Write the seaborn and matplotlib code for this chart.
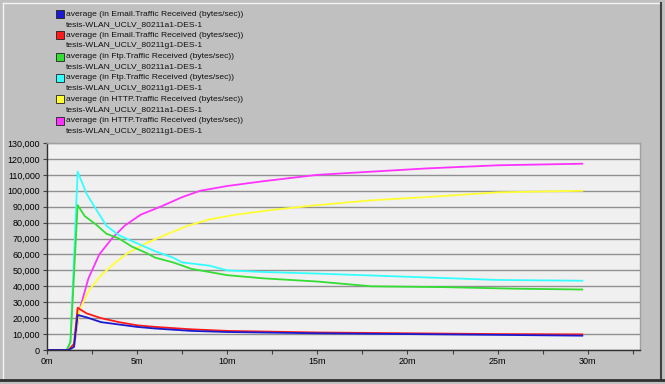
import matplotlib
matplotlib.use('Agg')
import matplotlib.pyplot as plt
import matplotlib.ticker as mticker
from matplotlib.lines import Line2D
import pandas as pd
import seaborn as sns

# time in minutes, traffic in bytes/sec
email_a1_t = [0, 1.2, 1.5, 1.7, 2.2, 3, 4, 5, 6, 8, 10, 15, 20, 25, 29.7]
email_a1_v = [0, 0, 2000, 22000, 20500, 17500, 16000, 14500, 13500, 12000, 11300, 10500, 10000, 9500, 9000]

email_g1_t = [0, 1.2, 1.5, 1.7, 2.2, 3, 4, 5, 6, 8, 10, 15, 20, 25, 29.7]
email_g1_v = [0, 0, 4000, 26500, 23000, 20000, 17500, 15500, 14500, 13000, 12000, 11000, 10500, 10000, 9800]

ftp_a1_t = [0, 1.1, 1.3, 1.7, 2.1, 2.7, 3.3, 4, 4.7, 5.5, 6, 7, 8, 9, 10, 12, 15, 18, 22, 26, 29.7]
ftp_a1_v = [0, 0, 5000, 91000, 84000, 79000, 73000, 70000, 65000, 61000, 58000, 55000, 51000, 49000, 47000,
            45000, 43000, 40000, 39500, 38500, 38000]

ftp_g1_t = [0, 1.1, 1.3, 1.7, 2.2, 2.8, 3.3, 4, 5, 6, 7, 7.5, 9, 10, 12, 15, 20, 25, 29.7]
ftp_g1_v = [0, 0, 5000, 112000, 98000, 87000, 78000, 72000, 67000, 62000, 58000, 55000, 53000, 50000,
            49000, 48000, 46000, 44000, 43500]

http_a1_t = [0, 1.2, 1.5, 1.8, 2.3, 3, 3.8, 4.5, 5.5, 6.5, 7.8, 9, 10.5, 12.5, 15, 18, 21, 25, 29.7]
http_a1_v = [0, 0, 2000, 25000, 37000, 47000, 55000, 61000, 67000, 72000, 78000, 82000, 85000, 88000,
             91000, 94000, 96000, 99000, 100000]

http_g1_t = [0, 1.2, 1.5, 1.8, 2.3, 2.9, 3.6, 4.3, 5.2, 6.3, 7.5, 8.5, 10, 12, 15, 18, 21, 25, 29.7]
http_g1_v = [0, 0, 2000, 25000, 45000, 60000, 70000, 78000, 85000, 90000, 96000, 100000, 103000, 106000,
             110000, 112000, 114000, 116000, 117000]

labels = [
    'average (in Email.Traffic Received (bytes/sec))\ntesis-WLAN_UCLV_80211a1-DES-1',
    'average (in Email.Traffic Received (bytes/sec))\ntesis-WLAN_UCLV_80211g1-DES-1',
    'average (in Ftp.Traffic Received (bytes/sec))\ntesis-WLAN_UCLV_80211a1-DES-1',
    'average (in Ftp.Traffic Received (bytes/sec))\ntesis-WLAN_UCLV_80211g1-DES-1',
    'average (in HTTP.Traffic Received (bytes/sec))\ntesis-WLAN_UCLV_80211a1-DES-1',
    'average (in HTTP.Traffic Received (bytes/sec))\ntesis-WLAN_UCLV_80211g1-DES-1',
]
colors = ['#1a1ad0', '#ff1a1a', '#33dd33', '#33ffff', '#ffff33', '#ff33ff']

series = [(email_a1_t, email_a1_v), (email_g1_t, email_g1_v), (ftp_a1_t, ftp_a1_v),
          (ftp_g1_t, ftp_g1_v), (http_a1_t, http_a1_v), (http_g1_t, http_g1_v)]

frames = []
for lab, (t, v) in zip(labels, series):
    frames.append(pd.DataFrame({'t': t, 'v': v, 'series': lab}))
df = pd.concat(frames, ignore_index=True)

plt.rcParams['font.family'] = ['Liberation Sans', 'DejaVu Sans']

W, H = 665, 384
fig = plt.figure(figsize=(6.65, 3.84), dpi=100, facecolor='#c0c0c0')
ax = fig.add_axes([47 / W, 1 - 350 / H, 593 / W, 207 / H])
ax.set_facecolor('#f0f0f0')

# draw back to front so blue ends on top like the reference
order = [5, 4, 3, 2, 1, 0]
sns.lineplot(data=df, x='t', y='v', hue='series', hue_order=[labels[i] for i in order],
             palette=[colors[i] for i in order], linewidth=1.3, legend=False, ax=ax,
             estimator=None, sort=False)

ax.set_xlim(0, 32.9)
ax.set_ylim(0, 130000)
ax.set_xlabel('')
ax.set_ylabel('')
ax.set_yticks(range(0, 130001, 10000))
ax.yaxis.set_major_formatter(mticker.FuncFormatter(lambda v, p: f'{int(v):,}'))
ax.set_xticks(range(0, 31, 5))
ax.set_xticklabels([f'{m}m' for m in range(0, 31, 5)])
ax.xaxis.set_minor_locator(mticker.MultipleLocator(2.5))
ax.tick_params(axis='both', labelsize=6.5, length=3, width=0.8, color='#404040', pad=2)
ax.tick_params(axis='x', which='minor', length=3, width=0.8, color='#404040')
ax.grid(axis='y', color='#909090', linewidth=1)
ax.set_axisbelow(True)
for side in ['left', 'bottom']:
    ax.spines[side].set_color('#303030')
    ax.spines[side].set_linewidth(1)
for side in ['top', 'right']:
    ax.spines[side].set_color('#a0a0a0')
    ax.spines[side].set_linewidth(1)

# legend, laid out line by line like the original window
line_h = 10.65
for i, (lab, c) in enumerate(zip(labels, colors)):
    first, second = lab.split('\n')
    y1 = 1 - (14 + 2 * i * line_h) / H
    y2 = 1 - (14 + (2 * i + 1) * line_h) / H
    fig.add_artist(Line2D([60 / W], [y1], transform=fig.transFigure, linestyle='none',
                          marker='s', markersize=5.5, markerfacecolor=c,
                          markeredgecolor='#202020', markeredgewidth=0.6))
    fig.text(66 / W, y1, first, fontsize=6.1, va='center', ha='left', color='#101010')
    fig.text(66 / W, y2, second, fontsize=6.1, va='center', ha='left', color='#101010')

# window frame: light top/left edge, dark right/bottom edge
fig.add_artist(Line2D([2.5 / W, 661 / W], [1 - 2.5 / H] * 2, transform=fig.transFigure,
                      color='#f4f4f4', linewidth=1))
fig.add_artist(Line2D([2.5 / W] * 2, [1 - 2.5 / H, 1 - 379 / H], transform=fig.transFigure,
                      color='#f4f4f4', linewidth=1))
fig.add_artist(Line2D([661 / W] * 2, [1 - 2.5 / H, 1 - 379 / H], transform=fig.transFigure,
                      color='#404040', linewidth=1.5))
fig.add_artist(Line2D([0, 1], [1 - 380 / H] * 2, transform=fig.transFigure,
                      color='#303030', linewidth=2))

fig.savefig('out.png', dpi=100, facecolor=fig.get_facecolor())
